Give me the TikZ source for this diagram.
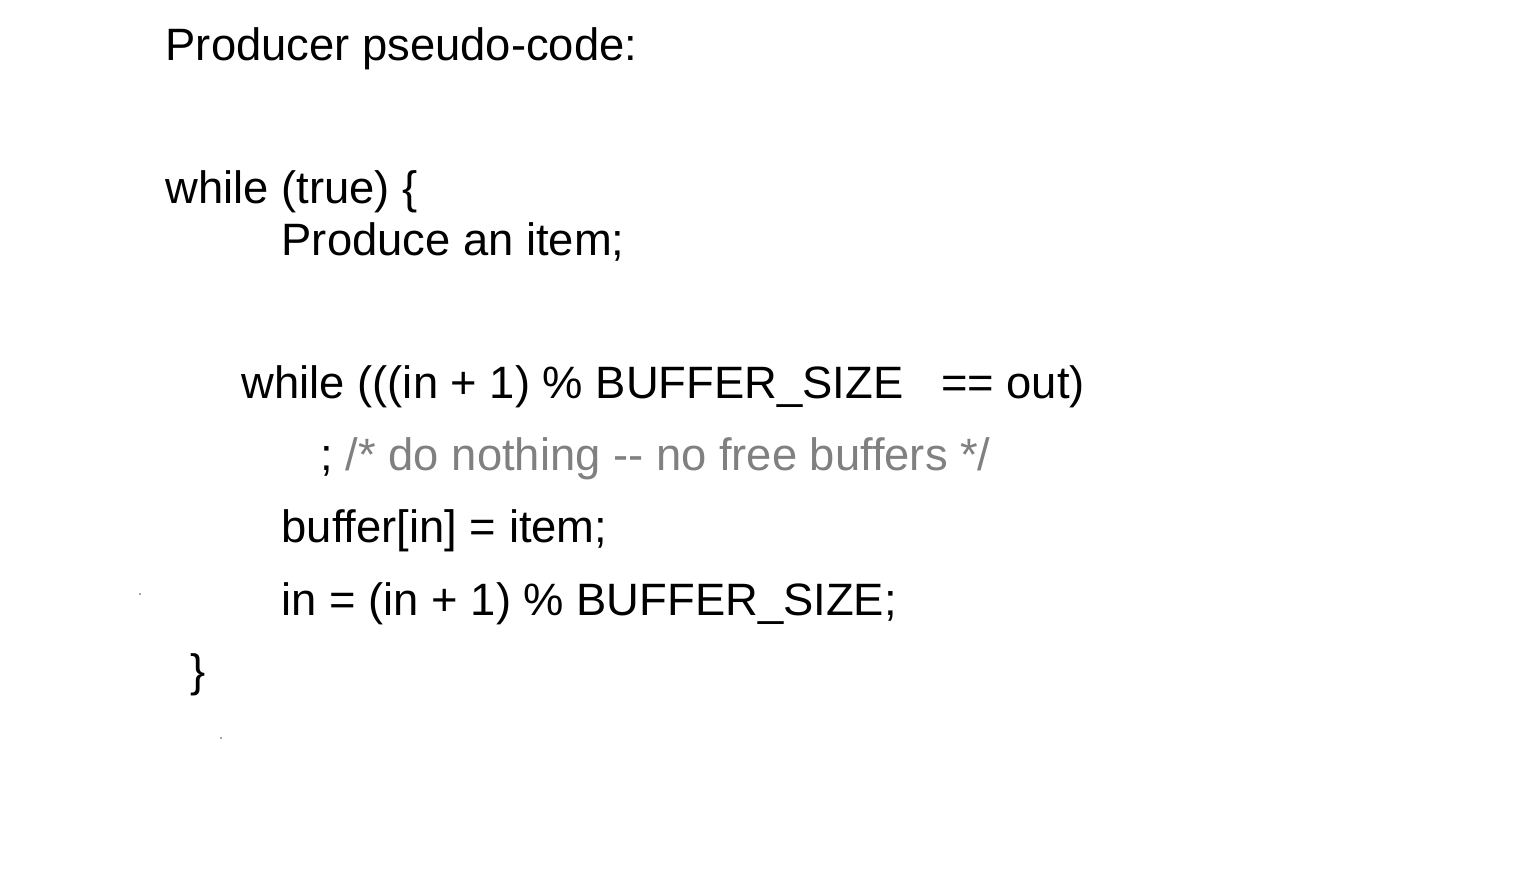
\documentclass[tikz,border=0pt]{standalone}
\usepackage{fontspec}
\setmainfont{Liberation Sans}
\definecolor{commentgray}{HTML}{808080}
\tikzset{
  codeline/.style={anchor=base west, inner sep=0pt, font=\fontsize{12.9}{15}\selectfont},
}
\begin{document}
\begin{tikzpicture}[x=0.01cm, y=-0.01cm]
      \useasboundingbox (0, 0) rectangle (1522, 894);

      \node[codeline] (title) at (165, 61) {Producer pseudo-code:};

      \node[codeline] (outer) at (165, 203) {while (true) \{};
      \node[codeline] (produce) at (281, 255) {Produce an item;};

      \node[codeline] (inner) at (241, 398) {while (((in + 1) \% BUFFER\_SIZE\ \ \ == out)};
      \node[codeline] (nothing) at (320, 470) {; \textcolor{commentgray}{/* do nothing -{}- no free buffers */}};

      \node[codeline] (store) at (281, 542) {buffer[in] = item;};
      \node[codeline] (advance) at (281, 615) {in = (in + 1) \% BUFFER\_SIZE;};

      \node[codeline] (close) at (190, 686) {\}};

      \fill[black!70] (140, 594) circle (0.8);
      \fill[black!70] (221, 738) circle (0.8);
    \end{tikzpicture}
\end{document}
